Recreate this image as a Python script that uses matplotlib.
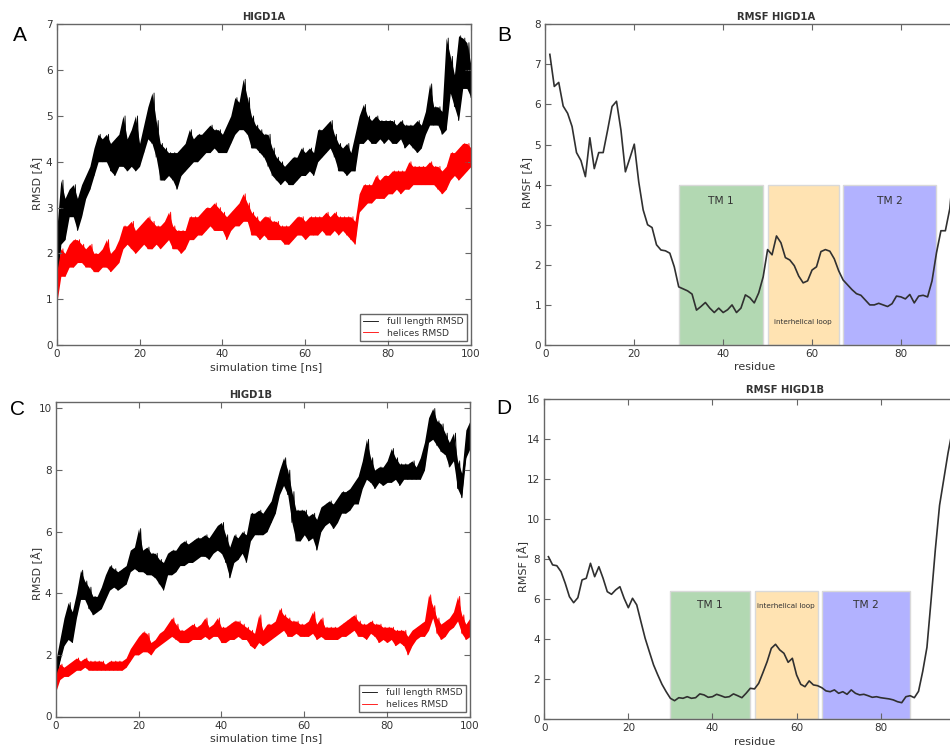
import numpy as np
import matplotlib.pyplot as plt
from matplotlib.patches import Rectangle

# ---- data ----
time_ns = np.arange(0, 101)  # 1 ns steps, lower/upper edge of the noisy trace

higd1a_full_lo = [1.0, 2.2, 2.3, 2.8, 2.8, 2.5, 2.8, 3.2, 3.4, 3.7,
                  4.0, 4.0, 4.0, 3.8, 3.7, 3.9, 3.9, 3.8, 3.9, 3.8,
                  3.9, 4.2, 4.5, 4.4, 4.1, 3.6, 3.6, 3.7, 3.6, 3.4,
                  3.7, 3.8, 3.9, 4.0, 4.0, 4.1, 4.2, 4.2, 4.3, 4.2,
                  4.2, 4.2, 4.4, 4.6, 4.7, 4.7, 4.6, 4.3, 4.3, 4.2,
                  4.1, 3.9, 3.7, 3.6, 3.5, 3.6, 3.5, 3.5, 3.6, 3.7,
                  3.7, 3.8, 3.7, 4.0, 4.1, 4.2, 4.3, 4.1, 3.8, 3.8,
                  3.7, 3.8, 3.8, 4.4, 4.4, 4.5, 4.4, 4.4, 4.5, 4.4,
                  4.5, 4.4, 4.4, 4.5, 4.3, 4.4, 4.3, 4.2, 4.3, 4.6,
                  4.8, 4.8, 4.8, 4.6, 4.7, 5.5, 5.2, 4.9, 5.6, 5.6, 5.4]
higd1a_full_hi = [2.5, 3.6, 3.2, 3.4, 3.5, 3.2, 3.5, 3.7, 3.9, 4.3,
                  4.6, 4.5, 4.6, 4.4, 4.5, 4.6, 5.0, 4.5, 4.7, 5.0,
                  4.4, 4.8, 5.2, 5.5, 4.9, 4.4, 4.3, 4.2, 4.2, 4.2,
                  4.3, 4.4, 4.7, 4.5, 4.6, 4.6, 4.7, 4.8, 4.7, 4.7,
                  4.6, 4.8, 5.0, 5.4, 5.3, 5.8, 5.4, 5.0, 4.8, 4.7,
                  4.6, 4.6, 4.3, 4.1, 4.0, 3.9, 4.0, 4.1, 4.1, 4.3,
                  4.2, 4.3, 4.2, 4.7, 4.7, 4.8, 4.9, 4.6, 4.4, 4.3,
                  4.4, 4.2, 4.6, 5.0, 5.25, 5.0, 4.9, 5.0, 4.9, 4.9,
                  4.9, 4.9, 4.8, 4.9, 4.8, 4.8, 4.8, 4.9, 4.8, 5.1,
                  5.7, 5.2, 5.2, 5.1, 6.7, 6.3, 5.9, 6.75, 6.7, 6.6, 6.1]

higd1a_helix_lo = [0.9, 1.5, 1.5, 1.7, 1.7, 1.8, 1.8, 1.7, 1.7, 1.6,
                   1.6, 1.7, 1.7, 1.6, 1.7, 1.8, 2.1, 2.2, 2.1, 2.0,
                   2.1, 2.2, 2.1, 2.1, 2.2, 2.1, 2.2, 2.3, 2.1, 2.1,
                   2.0, 2.1, 2.3, 2.3, 2.4, 2.4, 2.5, 2.6, 2.5, 2.5,
                   2.5, 2.3, 2.5, 2.6, 2.6, 2.7, 2.7, 2.4, 2.4, 2.3,
                   2.4, 2.3, 2.3, 2.3, 2.3, 2.2, 2.2, 2.3, 2.4, 2.4,
                   2.3, 2.4, 2.4, 2.4, 2.5, 2.4, 2.4, 2.5, 2.4, 2.5,
                   2.4, 2.3, 2.2, 2.9, 3.0, 3.1, 3.1, 3.2, 3.2, 3.2,
                   3.3, 3.3, 3.4, 3.3, 3.4, 3.4, 3.5, 3.5, 3.5, 3.5,
                   3.5, 3.5, 3.4, 3.3, 3.4, 3.6, 3.7, 3.6, 3.7, 3.8, 3.9]
higd1a_helix_hi = [1.6, 2.1, 2.0, 2.2, 2.3, 2.3, 2.2, 2.1, 2.2, 2.0,
                   2.0, 2.1, 2.3, 2.0, 2.1, 2.3, 2.6, 2.6, 2.7, 2.5,
                   2.6, 2.7, 2.8, 2.7, 2.6, 2.6, 2.7, 2.9, 2.6, 2.5,
                   2.5, 2.5, 2.8, 2.8, 2.8, 2.9, 3.0, 3.0, 3.1, 3.0,
                   2.9, 2.8, 2.9, 3.0, 3.1, 3.3, 3.1, 2.9, 2.8, 2.7,
                   2.8, 2.8, 2.7, 2.7, 2.6, 2.6, 2.6, 2.7, 2.8, 2.8,
                   2.7, 2.8, 2.8, 2.8, 2.8, 2.9, 2.8, 2.9, 2.8, 2.8,
                   2.8, 2.8, 2.7, 3.3, 3.5, 3.5, 3.5, 3.7, 3.6, 3.7,
                   3.7, 3.8, 3.8, 3.8, 3.8, 4.0, 3.9, 3.9, 3.9, 3.9,
                   4.0, 3.9, 3.9, 3.8, 3.9, 4.2, 4.2, 4.3, 4.4, 4.4, 4.3]

higd1b_full_lo = [1.0, 1.8, 2.3, 2.5, 2.4, 3.2, 3.8, 3.8, 3.5, 3.3,
                  3.4, 3.5, 3.8, 4.1, 4.2, 4.1, 4.2, 4.3, 4.7, 4.8,
                  4.7, 4.7, 4.6, 4.6, 4.5, 4.3, 4.1, 4.6, 4.6, 4.7,
                  4.9, 4.9, 5.0, 5.0, 5.1, 5.2, 5.2, 5.1, 5.3, 5.4,
                  5.3, 5.0, 4.5, 5.0, 5.1, 5.3, 5.0, 5.7, 5.9, 5.9,
                  5.9, 6.0, 6.3, 6.6, 7.2, 7.5, 7.2, 6.3, 5.7, 5.7,
                  5.9, 5.7, 5.8, 5.4, 6.0, 6.2, 6.3, 6.1, 6.3, 6.6,
                  6.6, 6.7, 6.9, 6.9, 7.4, 7.7, 7.6, 7.4, 7.6, 7.5,
                  7.6, 7.6, 7.7, 7.5, 7.7, 7.7, 7.7, 7.7, 7.7, 8.0,
                  8.9, 9.0, 8.8, 8.6, 8.5, 8.1, 8.3, 7.4, 7.1, 8.4, 8.7]
higd1b_full_hi = [1.8, 2.5, 3.2, 3.7, 3.4, 4.0, 4.75, 4.4, 4.2, 3.9,
                  3.9, 4.2, 4.6, 4.9, 4.8, 4.7, 4.8, 4.9, 5.4, 5.5,
                  6.1, 5.4, 5.5, 5.3, 5.3, 5.1, 5.0, 5.3, 5.4, 5.4,
                  5.6, 5.7, 5.6, 5.7, 5.8, 5.8, 5.9, 5.8, 6.0, 6.2,
                  6.3, 5.9, 5.5, 5.9, 5.8, 6.0, 5.9, 6.6, 6.6, 6.7,
                  6.6, 6.8, 7.0, 7.5, 8.0, 8.4, 8.0, 7.3, 6.7, 6.7,
                  6.7, 6.5, 6.6, 6.4, 6.8, 6.9, 7.0, 6.9, 7.1, 7.3,
                  7.3, 7.4, 7.6, 7.8, 8.3, 9.0, 8.4, 8.0, 8.1, 8.1,
                  8.3, 8.7, 8.4, 8.2, 8.2, 8.2, 8.3, 8.1, 8.4, 8.9,
                  9.7, 10.0, 9.6, 9.5, 9.2, 8.9, 9.2, 8.3, 7.9, 9.3, 9.6]

higd1b_helix_lo = [0.8, 1.2, 1.3, 1.3, 1.4, 1.5, 1.5, 1.6, 1.5, 1.5,
                   1.5, 1.5, 1.5, 1.5, 1.5, 1.5, 1.5, 1.6, 1.8, 2.0,
                   2.0, 2.1, 2.1, 2.0, 2.2, 2.3, 2.4, 2.5, 2.6, 2.5,
                   2.4, 2.4, 2.4, 2.5, 2.5, 2.5, 2.6, 2.5, 2.6, 2.6,
                   2.4, 2.4, 2.5, 2.5, 2.6, 2.5, 2.5, 2.3, 2.2, 2.4,
                   2.3, 2.4, 2.5, 2.6, 2.7, 2.8, 2.6, 2.6, 2.7, 2.6,
                   2.6, 2.6, 2.7, 2.5, 2.6, 2.5, 2.5, 2.5, 2.5, 2.6,
                   2.6, 2.7, 2.8, 2.6, 2.6, 2.5, 2.7, 2.6, 2.4, 2.5,
                   2.4, 2.5, 2.3, 2.4, 2.3, 2.0, 2.3, 2.5, 2.6, 2.6,
                   2.8, 3.2, 2.7, 2.5, 2.6, 2.8, 2.9, 3.1, 2.7, 2.5, 2.6]
higd1b_helix_hi = [1.4, 1.7, 1.6, 1.7, 1.8, 1.9, 1.8, 1.9, 1.8, 1.8,
                   1.8, 1.8, 1.7, 1.8, 1.8, 1.8, 1.8, 1.9, 2.2, 2.4,
                   2.6, 2.75, 2.7, 2.4, 2.5, 2.7, 2.8, 3.0, 3.2, 3.0,
                   2.8, 2.8, 2.9, 3.0, 2.9, 3.0, 3.2, 2.9, 3.0, 3.2,
                   2.9, 2.9, 3.0, 3.1, 3.1, 3.0, 2.9, 2.8, 2.7, 3.3,
                   2.8, 3.0, 3.0, 3.1, 3.5, 3.3, 3.2, 3.1, 3.1, 3.0,
                   3.0, 3.1, 3.4, 3.0, 3.2, 2.9, 2.9, 2.9, 2.9, 3.0,
                   3.1, 3.2, 3.3, 3.1, 3.0, 3.0, 3.1, 3.0, 3.0, 2.9,
                   2.9, 2.9, 2.8, 2.8, 2.8, 2.6, 2.8, 2.9, 3.0, 3.1,
                   3.95, 3.6, 3.2, 3.0, 3.1, 3.2, 3.4, 3.9, 3.3, 3.0, 3.2]

rmsf_higd1a = [7.25, 6.45, 6.55, 5.96, 5.78, 5.45, 4.8, 4.6, 4.2, 5.17,
               4.4, 4.8, 4.8, 5.36, 5.95, 6.08, 5.36, 4.32, 4.66, 5.01,
               4.07, 3.37, 3.0, 2.93, 2.5, 2.37, 2.35, 2.29, 1.95, 1.45,
               1.4, 1.35, 1.27, 0.87, 0.96, 1.06, 0.92, 0.81, 0.92, 0.81,
               0.88, 1.0, 0.81, 0.92, 1.25, 1.18, 1.05, 1.3, 1.7, 2.38,
               2.25, 2.72, 2.55, 2.18, 2.12, 1.98, 1.72, 1.55, 1.6, 1.87,
               1.95, 2.33, 2.38, 2.34, 2.15, 1.85, 1.62, 1.5, 1.38, 1.28,
               1.24, 1.12, 1.0, 1.0, 1.04, 1.0, 0.96, 1.03, 1.22, 1.2,
               1.15, 1.26, 1.05, 1.22, 1.24, 1.2, 1.6, 2.3, 2.85, 2.85,
               3.4, 4.6, 5.8]
rmsf_higd1b = [8.13, 7.72, 7.68, 7.38, 6.8, 6.13, 5.83, 6.08, 6.97, 7.05,
               7.8, 7.13, 7.63, 7.05, 6.38, 6.25, 6.47, 6.63, 6.05, 5.58,
               6.05, 5.72, 4.88, 4.05, 3.38, 2.72, 2.22, 1.75, 1.38, 1.05,
               0.93, 1.08, 1.05, 1.13, 1.05, 1.08, 1.27, 1.22, 1.1, 1.13,
               1.25, 1.18, 1.1, 1.13, 1.27, 1.18, 1.08, 1.3, 1.55, 1.52,
               1.8, 2.33, 2.88, 3.55, 3.75, 3.47, 3.3, 2.85, 3.05, 2.22,
               1.75, 1.63, 1.92, 1.72, 1.68, 1.58, 1.42, 1.38, 1.47, 1.3,
               1.38, 1.25, 1.47, 1.3, 1.22, 1.25, 1.18, 1.1, 1.13, 1.08,
               1.05, 1.02, 0.97, 0.88, 0.83, 1.13, 1.18, 1.08, 1.4, 2.4,
               3.6, 6.0, 8.5, 10.7, 12.0, 13.3, 14.4, 15.2, 15.6]

region_names = ['TM 1', 'interhelical loop', 'TM 2']
region_colors = ['green', 'orange', 'blue']
regions_higd1a = [(30, 49), (50, 66), (67, 88)]
regions_higd1b = [(30, 49), (50, 65), (66, 87)]

# ---- layout (pixel based, figure 950 x 747) ----
W, H = 950, 747
fig = plt.figure(figsize=(W / 100, H / 100), dpi=100)
fig.patch.set_facecolor('white')
plt.rcParams['font.family'] = 'DejaVu Sans'
TXT = '#333333'


def rect(left, top, right, bottom):
    return [left / W, 1 - bottom / H, (right - left) / W, (bottom - top) / H]


def fx(x, y):
    return x / W, 1 - y / H


axA = fig.add_axes(rect(56.7, 24.3, 471, 345))
axB = fig.add_axes(rect(545.4, 24.3, 545.4 + 444.4, 345))
axC = fig.add_axes(rect(55.7, 402.3, 470, 716.5))
axD = fig.add_axes(rect(544.2, 399.3, 544.2 + 420.6, 719.3))


def style(ax):
    ax.tick_params(direction='in', length=4, width=0.8, top=True, right=True,
                   labelsize=7.5, pad=3, color='0.4', labelcolor=TXT)
    for s in ax.spines.values():
        s.set_color('0.4')
        s.set_linewidth(1.0)


def zigzag(lo, hi):
    x = np.column_stack([time_ns, time_ns + 0.5]).ravel()
    y = np.column_stack([lo, hi]).ravel()
    return x, y


def labels(ax, xl, xpos, yl, ypos):
    ax.set_xlabel(xl, fontsize=8, color=TXT)
    ax.set_ylabel(yl, fontsize=8, color=TXT)
    ax.xaxis.set_label_coords(*fx(*xpos), transform=fig.transFigure)
    ax.yaxis.set_label_coords(*fx(*ypos), transform=fig.transFigure)
    ax.xaxis.label.set_va('center')
    ax.yaxis.label.set_va('center')


# RMSD panels
for ax, full_lo, full_hi, hel_lo, hel_hi, ymax, yticks in [
        (axA, higd1a_full_lo, higd1a_full_hi, higd1a_helix_lo, higd1a_helix_hi, 7, np.arange(0, 8, 1)),
        (axC, higd1b_full_lo, higd1b_full_hi, higd1b_helix_lo, higd1b_helix_hi, 10.2, np.arange(0, 11, 2))]:
    for lo, hi, color, lab in [(full_lo, full_hi, 'black', 'full length RMSD'),
                               (hel_lo, hel_hi, 'red', 'helices RMSD')]:
        ax.fill_between(time_ns, lo, hi, color=color, lw=0)
        x, y = zigzag(lo, hi)
        ax.plot(x, y, color=color, lw=0.6, label=lab)
    ax.set_xlim(0, 100)
    ax.set_ylim(0, ymax)
    ax.set_xticks(np.arange(0, 101, 20))
    ax.set_yticks(yticks)
    style(ax)
    leg = ax.legend(loc='lower right', fontsize=6.6, frameon=True, fancybox=False,
                    borderaxespad=0.45, borderpad=0.35, labelspacing=0.3,
                    handlelength=1.6, handletextpad=1.0)
    leg.get_frame().set_edgecolor('0.25')
    leg.get_frame().set_linewidth(1.0)
    for t in leg.get_texts():
        t.set_color(TXT)

labels(axA, 'simulation time [ns]', (266, 367), 'RMSD [Å]', (36.7, 183))
labels(axC, 'simulation time [ns]', (266, 738), 'RMSD [Å]', (37, 573))

# RMSF panels (right-hand axes run past the picture edge, as in the reference)
for ax, rmsf, regions, box_h, ymax, name_y, loop_y in [
        (axB, rmsf_higd1a, regions_higd1a, 4, 8, 3.58, 0.58),
        (axD, rmsf_higd1b, regions_higd1b, 6.4, 16, 5.7, 5.65)]:
    for (r0, r1), color, name in zip(regions, region_colors, region_names):
        ax.add_patch(Rectangle((r0, 0), r1 - r0, box_h, facecolor=color, alpha=0.3,
                               edgecolor='none', zorder=1))
        ax.add_patch(Rectangle((r0, 0), r1 - r0, box_h, facecolor='none',
                               edgecolor='0.85', lw=1.0, zorder=1.5))
        if name == 'interhelical loop':
            ax.text((r0 + r1) / 2, loop_y, name, fontsize=5.2, ha='center', va='center',
                    color=TXT, zorder=3)
        else:
            ax.text((r0 + r1) / 2, name_y, name, fontsize=7.7, ha='center', va='center',
                    color=TXT, zorder=3)
    residues = np.arange(1, len(rmsf) + 1)
    ax.plot(residues, rmsf, color='#303030', lw=1.2, zorder=2)
    ax.set_xlim(0, 100)
    ax.set_ylim(0, ymax)
    ax.set_xticks(np.arange(0, 81, 20))
    ax.set_yticks(np.arange(0, ymax + 1, 1 if ymax == 8 else 2))
    style(ax)

labels(axB, 'residue', (755, 367), 'RMSF [Å]', (527, 182))
labels(axD, 'residue', (755, 742), 'RMSF [Å]', (523, 567))

# titles and panel letters
for title, pos in [('HIGD1A', (264, 16.5)), ('RMSF HIGD1A', (776, 16.5)),
                   ('HIGD1B', (251, 395)), ('RMSF HIGD1B', (785, 390))]:
    fig.text(*fx(*pos), title, fontsize=7.2, fontweight='bold', ha='center', va='center', color=TXT)

for letter, pos in [('A', (19.5, 35.5)), ('B', (504, 35.5)), ('C', (17.5, 409.5)), ('D', (504, 408))]:
    fig.text(*fx(*pos), letter, fontsize=15, family='Liberation Sans', ha='center', va='center',
             color='black')

fig.savefig('out.png', dpi=100)
